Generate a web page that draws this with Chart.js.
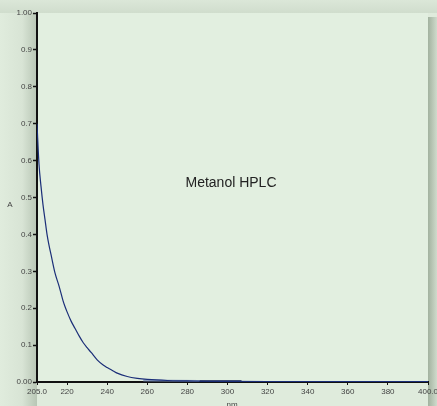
<!DOCTYPE html>
<html>
<head>
<meta charset="utf-8">
<script src="https://cdn.jsdelivr.net/npm/chart.js@4.4.0/dist/chart.umd.min.js"></script>
<style>
  html, body { margin: 0; padding: 0; background: #dfebdc; }
  #wrap { position: relative; width: 437px; height: 406px; }
</style>
</head>
<body>
<div id="wrap"><canvas id="uvChart"></canvas></div>
<script>
// spectrum (nm -> absorbance)
const wavelengths = [205, 206, 207, 208, 209, 210, 211, 212, 214, 216, 218, 219, 220, 222, 224, 226, 228, 230, 232, 235, 238, 240, 243, 245, 250, 255, 260, 270, 280, 290, 300, 320, 340, 360, 380, 400];
const absorbance  = [0.70, 0.59, 0.53, 0.48, 0.44, 0.40, 0.37, 0.345, 0.295, 0.26, 0.22, 0.204, 0.19, 0.165, 0.145, 0.125, 0.107, 0.093, 0.08, 0.06, 0.046, 0.039, 0.03, 0.024, 0.015, 0.01, 0.007, 0.004, 0.003, 0.002, 0.0015, 0.001, 0.001, 0.001, 0.001, 0.001];

// short overlay traces sitting on the baseline
const lightWl  = [258, 286];
const lightAbs = [0.004, 0.003];
const darkWl   = [286, 307];
const darkAbs  = [0.002, 0.002];

const xTicks = [205, 220, 240, 260, 280, 300, 320, 340, 360, 380, 400];
const yTicks = [0, 0.1, 0.2, 0.3, 0.4, 0.5, 0.6, 0.7, 0.8, 0.9, 1.0];

const FONT = "'Liberation Sans', Arial, sans-serif";

function pts(xs, ys) {
  return xs.map((w, i) => ({ x: w, y: ys[i] }));
}

// background + panel + shadows + free text
const panelBg = {
  id: "panelBg",
  beforeDraw(chart) {
    const { ctx, chartArea: a, width, height } = chart;
    ctx.save();
    ctx.fillStyle = "#dfebdc";
    ctx.fillRect(0, 0, width, height);
    // top band
    let g = ctx.createLinearGradient(0, 0, 0, a.top);
    g.addColorStop(0, "#dbe7d8");
    g.addColorStop(1, "#d0ddcd");
    ctx.fillStyle = g;
    ctx.fillRect(0, 0, width, a.top);
    // left shadow near axis
    g = ctx.createLinearGradient(0, 0, a.left, 0);
    g.addColorStop(0, "#e0ecdd");
    g.addColorStop(0.6, "#d8e4d5");
    g.addColorStop(1, "#b8c6b5");
    ctx.fillStyle = g;
    ctx.fillRect(0, a.top, a.left, height - a.top);
    // right shadow
    g = ctx.createLinearGradient(a.right, 0, width, 0);
    g.addColorStop(0, "#a2b29f");
    g.addColorStop(1, "#cfdbcc");
    ctx.fillStyle = g;
    ctx.fillRect(a.right, a.top + 4, width - a.right, height - a.top - 4);
    // plot panel
    ctx.fillStyle = "#e2efe0";
    ctx.fillRect(a.left, a.top, a.right - a.left, a.bottom - a.top);
    ctx.restore();
  },
  afterDraw(chart) {
    const { ctx } = chart;
    ctx.save();
    ctx.fillStyle = "#444";
    ctx.font = "8px " + FONT;
    ctx.textAlign = "center";
    ctx.textBaseline = "middle";
    ctx.fillText("A", 10, 205);
    ctx.fillText("nm", 232, 405);
    ctx.fillStyle = "#222";
    ctx.font = "14px " + FONT;
    ctx.fillText("Metanol HPLC", 231, 183);
    ctx.restore();
  }
};

new Chart(document.getElementById("uvChart"), {
  type: "line",
  data: {
    datasets: [{
      label: "Metanol HPLC",
      data: pts(wavelengths, absorbance),
      borderColor: "#1b2e78",
      borderWidth: 1.2,
      pointRadius: 0,
      cubicInterpolationMode: "monotone",
      fill: false
    }, {
      label: "overlay 1",
      data: pts(lightWl, lightAbs),
      borderColor: "rgba(110,130,175,0.75)",
      borderWidth: 2,
      pointRadius: 0,
      fill: false
    }, {
      label: "overlay 2",
      data: pts(darkWl, darkAbs),
      borderColor: "#14224f",
      borderWidth: 2,
      pointRadius: 0,
      fill: false
    }]
  },
  options: {
    responsive: true,
    maintainAspectRatio: false,
    animation: false,
    layout: { padding: { top: 13, right: 9, left: 0, bottom: 0 } },
    plugins: {
      legend: { display: false },
      tooltip: { enabled: false }
    },
    scales: {
      x: {
        type: "linear",
        min: 205,
        max: 400,
        afterBuildTicks: (s) => { s.ticks = xTicks.map(v => ({ value: v })); },
        afterFit: (s) => { s.height = 24; s.paddingLeft = 0; s.paddingRight = 0; },
        border: { color: "#111", width: 2 },
        grid: { drawOnChartArea: false, tickLength: 3, color: "#111", tickWidth: 1 },
        ticks: {
          color: "#444",
          font: { size: 8, family: FONT },
          padding: 2,
          maxRotation: 0,
          autoSkip: false,
          callback: (v) => (v === 205 || v === 400) ? v.toFixed(1) : String(v)
        }
      },
      y: {
        min: 0,
        max: 1,
        afterBuildTicks: (s) => { s.ticks = yTicks.map(v => ({ value: v })); },
        afterFit: (s) => { s.width = 37; s.paddingTop = 0; s.paddingBottom = 0; },
        border: { color: "#111", width: 2 },
        grid: { drawOnChartArea: false, tickLength: 4, color: "#111", tickWidth: 1.5 },
        ticks: {
          color: "#444",
          font: { size: 8, family: FONT },
          padding: 1,
          autoSkip: false,
          callback: (v) => (v === 0 || v === 1) ? v.toFixed(2) : v.toFixed(1)
        }
      }
    }
  },
  plugins: [panelBg]
});
</script>
</body>
</html>
